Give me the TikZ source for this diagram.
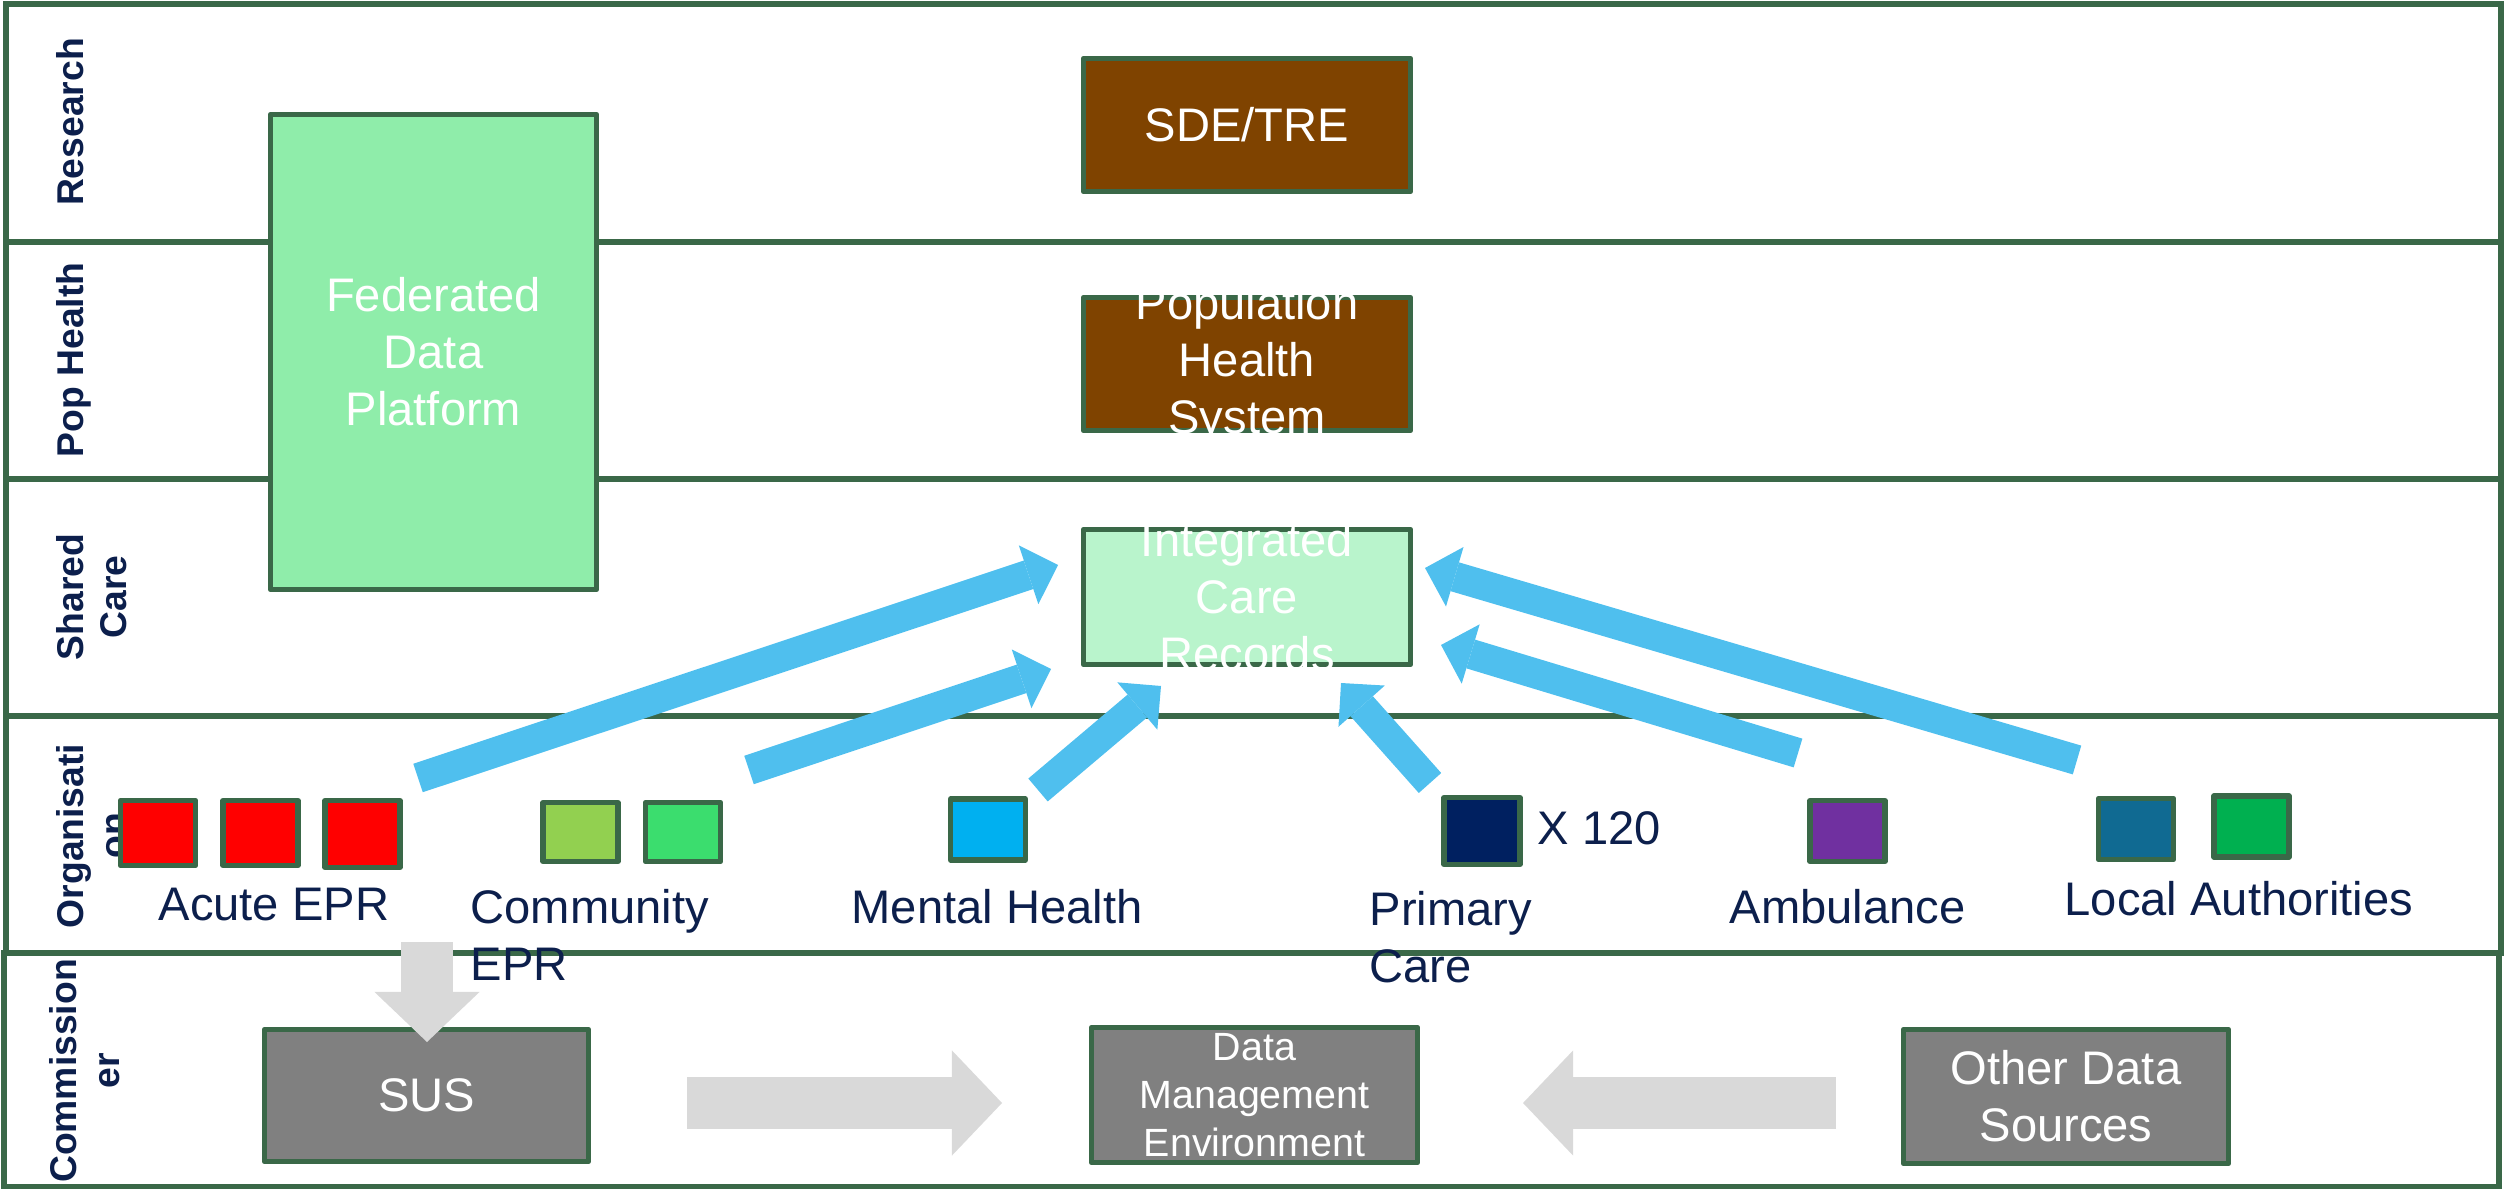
\documentclass[tikz,border=0pt]{standalone}
\usepackage{fontspec}
\setmainfont{Liberation Sans}
\usetikzlibrary{arrows.meta}

\definecolor{framegreen}{RGB}{58,104,72}
\definecolor{navytext}{RGB}{12,31,76}
\definecolor{fdpgreen}{RGB}{143,237,170}
\definecolor{icrgreen}{RGB}{185,244,204}
\definecolor{popbrown}{RGB}{127,67,0}
\definecolor{commgrey}{RGB}{128,128,128}
\definecolor{flowgrey}{RGB}{217,217,217}
\definecolor{feedblue}{RGB}{79,191,238}
\definecolor{acutered}{RGB}{255,0,0}
\definecolor{commlime}{RGB}{146,208,80}
\definecolor{commgreen}{RGB}{59,221,110}
\definecolor{mhblue}{RGB}{0,176,240}
\definecolor{gpnavy}{RGB}{0,32,96}
\definecolor{ambpurple}{RGB}{112,48,160}
\definecolor{lablue}{RGB}{16,106,146}
\definecolor{lagreen}{RGB}{0,176,80}

\tikzset{
  rowline/.style={draw=framegreen, line width=1.5pt},
  rowlabel/.style={rotate=90, anchor=north, inner sep=0pt, align=center, text=navytext,
    font=\fontsize{10.6}{12.2}\selectfont\bfseries},
  platform/.style={draw=framegreen, line width=1.5pt, line join=round, inner sep=0pt,
    minimum width=3.27cm, minimum height=1.33cm},
  boxtext/.style={text=white, align=center, inner sep=0pt, font=\fontsize{13.4}{16.2}\selectfont},
  org/.style={draw=framegreen, line width=1.5pt, line join=round, inner sep=0pt,
    minimum width=0.75cm, minimum height=0.61cm},
  orgtext/.style={anchor=base west, inner sep=0pt, align=left, text=navytext,
    font=\fontsize{13.4}{16.2}\selectfont},
  feed/.style={feedblue, line width=0.3cm, -{Triangle[width=0.62cm,length=0.31cm,line width=0pt]}},
  flow/.style={flowgrey, line width=0.52cm, -{Triangle[width=1.05cm,length=0.5cm,line width=0pt]}},
}

\begin{document}
\begin{tikzpicture}[x=0.01cm, y=-0.01cm]
        \useasboundingbox (0,0) rectangle (2504,1189);

        % swim lanes
        \draw[rowline] (6,4) rectangle (2501,242);
        \draw[rowline] (6,242) rectangle (2501,479);
        \draw[rowline] (6,479) rectangle (2501,716);
        \draw[rowline] (6,716) rectangle (2501,953);
        \draw[rowline] (4,953) rectangle (2499,1187);

        \node[rowlabel] (research) at (56,122) {Research};
        \node[rowlabel] (pophealth) at (56,360) {Pop Health};
        \node[rowlabel] (sharedcare) at (56,597) {Shared\\Care};
        \node[rowlabel] (organisation) at (56,836) {Organisati\\on};
        \node[rowlabel] (commissioner) at (49,1071) {Commission\\er};

        % platforms
        \node[platform, fill=fdpgreen, minimum width=3.26cm, minimum height=4.75cm,
          label={[boxtext]center:Federated\\Data\\Platform}] (fdp) at (433.5,352) {};
        \node[platform, fill=popbrown, label={[boxtext]center:SDE/TRE}] (sde) at (1247,125) {};
        \node[platform, fill=popbrown, label={[boxtext]center:Population\\Health\\System}] (phs) at (1247,364) {};
        \node[platform, fill=icrgreen, minimum height=1.35cm,
          label={[boxtext]center:Integrated\\Care\\Records}] (icr) at (1247,597) {};

        \node[platform, fill=commgrey, minimum width=3.24cm, minimum height=1.32cm,
          label={[boxtext]center:SUS}] (sus) at (426.5,1095.5) {};
        \node[platform, fill=commgrey, minimum width=3.26cm, minimum height=1.35cm,
          label={[boxtext, font=\fontsize{11.2}{13.7}\selectfont]center:Data\\Management\\Environment}] (dme) at (1254.5,1095) {};
        \node[platform, fill=commgrey, minimum width=3.25cm, minimum height=1.34cm,
          label={[boxtext]center:Other Data\\Sources}] (ods) at (2066,1096.5) {};

        % organisations
        \node[org, fill=acutered, minimum height=0.65cm] (acute1) at (158,833) {};
        \node[org, fill=acutered, minimum height=0.65cm] (acute2) at (260.5,833) {};
        \node[org, fill=acutered, minimum height=0.67cm] (acute3) at (362.5,834) {};
        \node[org, fill=commlime, minimum height=0.59cm] (comm1) at (580.5,832) {};
        \node[org, fill=commgreen, minimum height=0.59cm] (comm2) at (683,832) {};
        \node[org, fill=mhblue] (mh) at (988,829.5) {};
        \node[org, fill=gpnavy, minimum width=0.76cm, minimum height=0.67cm] (gp) at (1482,831) {};
        \node[org, fill=ambpurple] (amb) at (1847.5,831) {};
        \node[org, fill=lablue] (la1) at (2136,829) {};
        \node[org, fill=lagreen] (la2) at (2251.5,826.5) {};

        % base of a two line label sits on its last line
        \node[orgtext] (acutelbl) at (158,920) {Acute EPR};
        \node[orgtext] (commlbl) at (470,980) {Community\\EPR};
        \node[orgtext] (mhlbl) at (851,923) {Mental Health};
        \node[orgtext] (gpcount) at (1537,844) {X 120};
        \node[orgtext] (gplbl) at (1369,982) {Primary\\Care};
        \node[orgtext] (amblbl) at (1729,923) {Ambulance};
        \node[orgtext] (lalbl) at (2064,915) {Local Authorities};

        % feeds into the shared care record
        \coordinate (acute-feed) at (418,778);
        \coordinate (comm-feed) at (749,770);
        \coordinate (mh-feed) at (1038,790);
        \coordinate (gp-feed) at (1430,783);
        \coordinate (amb-feed) at (1798,753);
        \coordinate (la-feed) at (2077,760);
        \coordinate (icr-a) at (1058,565);
        \coordinate (icr-b) at (1051,669);
        \coordinate (icr-c) at (1161,686);
        \coordinate (icr-d) at (1341,683);
        \coordinate (icr-e) at (1441,645);
        \coordinate (icr-f) at (1425,568);

        \draw[feed] (acute-feed) -- (icr-a);
        \draw[feed] (comm-feed) -- (icr-b);
        \draw[feed] (mh-feed) -- (icr-c);
        \draw[feed] (gp-feed) -- (icr-d);
        \draw[feed] (amb-feed) -- (icr-e);
        \draw[feed] (la-feed) -- (icr-f);

        % commissioning flows
        \coordinate (acute-down) at (427,942);
        \coordinate (sus-top) at (427,1042);
        \coordinate (sus-out) at (687,1103);
        \coordinate (dme-left) at (1002,1103);
        \coordinate (ods-out) at (1836,1103);
        \coordinate (dme-right) at (1523,1103);

        \draw[flow] (acute-down) -- (sus-top);
        \draw[flow] (sus-out) -- (dme-left);
        \draw[flow] (ods-out) -- (dme-right);
\end{tikzpicture}
\end{document}
